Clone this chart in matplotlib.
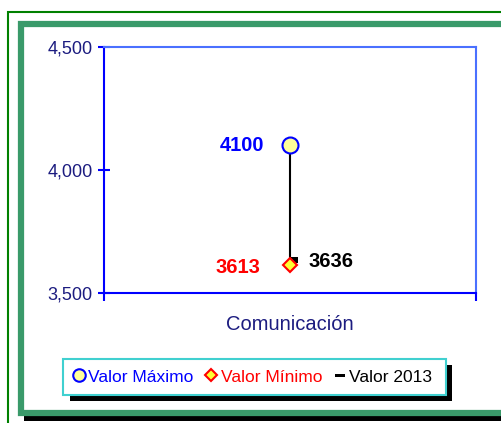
import matplotlib
matplotlib.use("Agg")
import matplotlib.pyplot as plt
from matplotlib.patches import Rectangle
from matplotlib.lines import Line2D

plt.rcParams['font.family'] = ['Liberation Sans', 'DejaVu Sans']

# data
category = ['Comunicación']
valor_maximo = [4100]
valor_minimo = [3613]
valor_2013 = [3636]
y_ticks = [3500, 4000, 4500]
legend_labels = ['Valor Máximo', 'Valor Mínimo', 'Valor 2013']

W, H = 502, 423
NAVY = '#1c1c80'


def px_rect(x0, y0, x1, y1, **kw):
    """Rectangle given in image pixels (origin top-left)."""
    return Rectangle((x0 / W, 1 - y1 / H), (x1 - x0) / W, (y1 - y0) / H,
                     transform=fig.transFigure, zorder=-1, **kw)


fig = plt.figure(figsize=(W / 100, H / 100), dpi=100)
fig.patch.set_facecolor('white')

# frames around the chart
fig.patches.append(px_rect(8, 12, 520, 440, fill=False, edgecolor='#008000', lw=1.5))
fig.patches.append(px_rect(24, 30, 520, 421, facecolor='black', edgecolor='none'))
fig.patches.append(px_rect(21, 24, 520, 413, facecolor='white', edgecolor='#3a9a6a', lw=4.5))

ax = fig.add_axes([104 / W, 1 - 293 / H, 372 / W, 246 / H])
ax.set_zorder(2)
x = [0.5]

# high-low line
for xi, hi, lo in zip(x, valor_maximo, valor_2013):
    ax.plot([xi, xi], [hi, lo], color='black', lw=1.5, zorder=2)

close_marker = [(0, -0.37), (1, -0.37), (1, 0.37), (0, 0.37), (0, -0.37)]
ax.plot(x, valor_2013, ls='none', marker=close_marker, ms=11.5,
        color='black', mec='black', mew=0, zorder=3)
ax.plot(x, valor_minimo, ls='none', marker='D', ms=7.5,
        mfc='#ffff33', mec='red', mew=1.5, zorder=4)
ax.plot(x, valor_maximo, ls='none', marker='o', ms=11.5,
        mfc='#ffff99', mec='blue', mew=1.5, zorder=5)

for xi, v in zip(x, valor_maximo):
    ax.annotate(str(v), (xi, v), xytext=(-48, 0), textcoords='offset pixels',
                ha='center', va='center', color='blue', fontsize=14.5, fontweight='bold')
for xi, v in zip(x, valor_minimo):
    ax.annotate(str(v), (xi, v), xytext=(-52, -2), textcoords='offset pixels',
                ha='center', va='center', color='red', fontsize=14.5, fontweight='bold')
for xi, v in zip(x, valor_2013):
    ax.annotate(str(v), (xi, v), xytext=(41, -2), textcoords='offset pixels',
                ha='center', va='center', color='black', fontsize=14.5, fontweight='bold')

ax.set_xlim(0, 1)
ax.set_ylim(3500, 4500)
ax.set_yticks(y_ticks)
ax.set_yticklabels([f'{t:,}' for t in y_ticks], color=NAVY, fontsize=13)
ax.tick_params(axis='y', direction='inout', length=8.5, width=1.5, color='blue', pad=4)
ax.set_xticks([0, 1])
ax.set_xticklabels(['', ''])
ax.tick_params(axis='x', direction='out', length=6, width=1.5, color='blue')
ax.text(0.5, -0.13, category[0], transform=ax.transAxes, ha='center', va='center',
        color=NAVY, fontsize=14.5)

ax.spines['left'].set_color('blue')
ax.spines['bottom'].set_color('blue')
ax.spines['top'].set_color('#4a70ff')
ax.spines['right'].set_color('#4a70ff')
for s in ax.spines.values():
    s.set_linewidth(1.5)

# legend box with black shadow
fig.patches.append(px_rect(70, 365, 452, 401, facecolor='black', edgecolor='none'))
fig.patches.append(px_rect(63, 359, 446, 395, facecolor='white', edgecolor='#40d0d0', lw=1.5))

handles = [
    Line2D([], [], ls='none', marker='o', ms=9, mfc='#ffff99', mec='blue', mew=1.5),
    Line2D([], [], ls='none', marker='D', ms=6.5, mfc='#ffff33', mec='red', mew=1.5),
    Line2D([], [], ls='none', marker=[(-1, -0.3), (1, -0.3), (1, 0.3), (-1, 0.3)],
           ms=7.2, color='black', mew=0),
]
fig.legend(handles, legend_labels, loc='center', ncol=3, frameon=False,
           bbox_to_anchor=(252 / W, 1 - 377 / H), fontsize=12.5,
           labelcolor=['blue', 'red', 'black'], handlelength=0.8,
           handletextpad=0.15, columnspacing=0.6)

fig.savefig('out.png', dpi=100)
